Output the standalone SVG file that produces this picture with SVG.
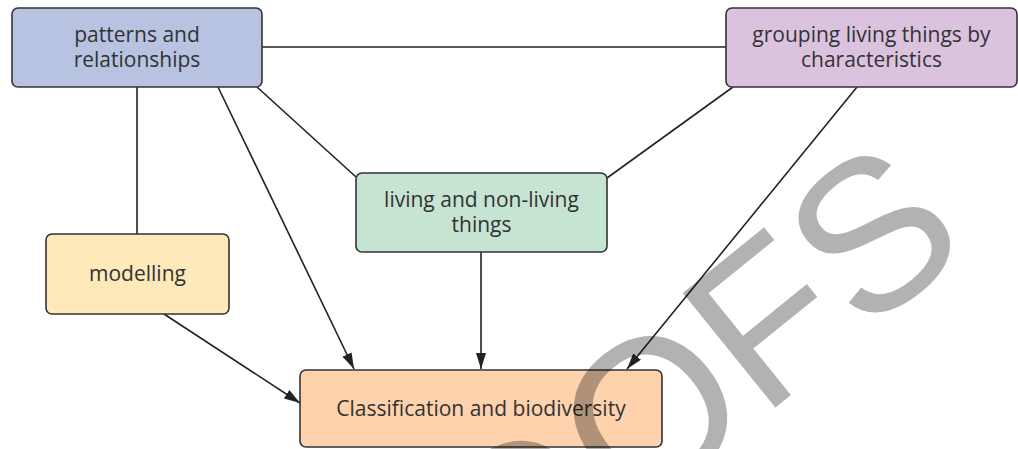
<svg xmlns="http://www.w3.org/2000/svg" width="1018" height="449" viewBox="0 0 1018 449">
<defs>
<style>
.node rect{stroke:#333;stroke-width:1.6}
.node text{font-family:"Open Sans","Noto Sans",sans-serif;font-size:21px;fill:#333;text-anchor:middle}
.conn line{stroke:#222;stroke-width:1.6;fill:none}
.arr{marker-end:url(#ah)}
.wm{font-family:"Liberation Sans",Arial,sans-serif;font-size:214px;fill:#000;fill-opacity:0.3}
</style>
<marker id="ah" viewBox="0 0 16 10" refX="16" refY="5" markerWidth="16" markerHeight="10" markerUnits="userSpaceOnUse" orient="auto">
<path d="M0,0 L16,5 L0,10 z" fill="#222"/>
</marker>
</defs>
<rect width="1018" height="449" fill="#fff"/>
<g id="connectors" class="conn">
<line x1="262" y1="47" x2="726" y2="47"/>
<line x1="137" y1="87" x2="137" y2="234"/>
<line x1="257" y1="87" x2="356" y2="177"/>
<line x1="733" y1="87" x2="607" y2="178"/>
<line class="arr" x1="218" y1="87" x2="354" y2="369"/>
<line class="arr" x1="857" y1="87" x2="627" y2="369"/>
<line class="arr" x1="481" y1="252" x2="481" y2="369"/>
<line class="arr" x1="164" y1="314" x2="300" y2="403"/>
</g>
<g id="node-patterns" class="node">
<rect x="12" y="8" width="250" height="79" rx="6" fill="#b8c3e2"/>
<text x="137" y="42">patterns and</text>
<text x="137" y="67">relationships</text>
</g>
<g id="node-grouping" class="node">
<rect x="726" y="8" width="291" height="79" rx="6" fill="#dbc3e0"/>
<text x="871.5" y="42">grouping living things by</text>
<text x="871.5" y="67">characteristics</text>
</g>
<g id="node-living" class="node">
<rect x="356" y="173" width="251" height="79" rx="6" fill="#c5e4d2"/>
<text x="481.5" y="207">living and non-living</text>
<text x="481.5" y="232">things</text>
</g>
<g id="node-modelling" class="node">
<rect x="46" y="234" width="183" height="80" rx="6" fill="#fde9b9"/>
<text x="137.5" y="281">modelling</text>
</g>
<g id="node-classification" class="node">
<rect x="300" y="370" width="362" height="77" rx="6" fill="#fdd2ad"/>
<text x="481" y="416">Classification and biodiversity</text>
</g>
<text class="wm" transform="translate(272,815) rotate(-39)">PROOFS</text>
</svg>
